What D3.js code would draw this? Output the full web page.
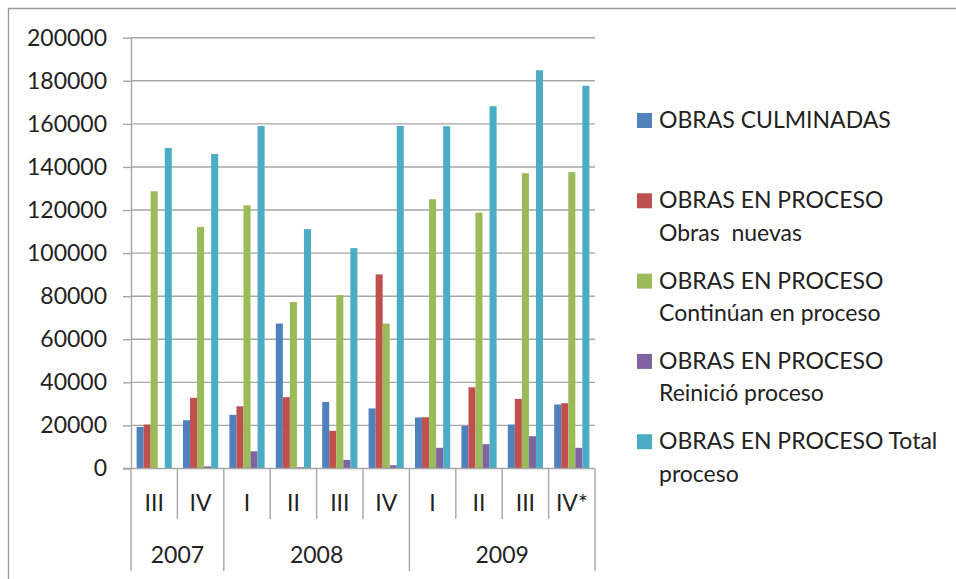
<!DOCTYPE html>
<html>
<head>
<meta charset="utf-8">
<script src="https://cdn.jsdelivr.net/npm/d3@7"></script>
<style>
  body { margin: 0; background: #fff; }
  text { font-family: Lato, 'Open Sans', sans-serif; fill: #222; }
</style>
</head>
<body>
<div class="chart"></div>
<script>
// DATA ------------------------------------
const quarters = ['III', 'IV', 'I', 'II', 'III', 'IV', 'I', 'II', 'III', 'IV*']
const years = ['2007', '2008', '2009']
const yearSpans = [2, 4, 4]
const yTicks = [0, 20000, 40000, 60000, 80000, 100000, 120000, 140000, 160000, 180000, 200000]

const culminadas = [19300, 22400, 24900, 67300, 30900, 27900, 23700, 19800, 20400, 29700]
const nuevas = [20400, 32800, 28900, 33100, 17500, 90100, 23800, 37700, 32300, 30300]
const continuan = [128700, 112200, 122200, 77300, 80500, 67300, 125000, 118800, 137100, 137600]
const reinicio = [0, 1000, 8000, 600, 4000, 1500, 9600, 11300, 15000, 9600]
const totalProceso = [148800, 146000, 159000, 111100, 102300, 159000, 158900, 168200, 184900, 177700]

const seriesNames = [
    ['OBRAS CULMINADAS'],
    ['OBRAS EN PROCESO', 'Obras  nuevas'],
    ['OBRAS EN PROCESO', 'Continúan en proceso'],
    ['OBRAS EN PROCESO', 'Reinició proceso'],
    ['OBRAS EN PROCESO Total', 'proceso']
]
const colors = ['#4f81bd', '#c0504d', '#9bbb59', '#8064a2', '#4bacc6']
const seriesValues = [culminadas, nuevas, continuan, reinicio, totalProceso]

// CHART INIT ------------------------------
const W = 956, H = 579
const plot = { left: 131, right: 595, top: 37.7, bottom: 468.5 }
const gridColor = '#a6a6a6'

const svg = d3.select('.chart')
    .append('svg')
    .attr('width', W)
    .attr('height', H)

// outer frame (top + left edges visible)
svg.append('path')
    .attr('d', `M8.5,${H} V8.5 H${W}`)
    .attr('fill', 'none')
    .attr('stroke', '#9a9a9a')
    .attr('stroke-width', 1.3)

const xScale = d3.scaleBand()
    .domain(d3.range(quarters.length))
    .range([plot.left, plot.right])

const xInner = d3.scaleBand()
    .domain(d3.range(seriesValues.length))
    .range([5.6, xScale.bandwidth() - 5.6])

const yScale = d3.scaleLinear()
    .domain([0, 200000])
    .range([plot.bottom, plot.top])

// gridlines + y axis
const yAxis = d3.axisLeft(yScale)
    .tickValues(yTicks)
    .tickSize(8)
    .tickPadding(16)
    .tickFormat(d3.format('d'))

const yg = svg.append('g')
    .attr('class', 'axis y-axis')
    .attr('transform', `translate(${plot.left},0)`)
    .call(yAxis)

yg.select('.domain').attr('stroke', gridColor).attr('stroke-width', 1.4)
    .attr('d', `M0.5,${plot.top}V${plot.bottom}`)
yg.selectAll('.tick line').attr('stroke', gridColor).attr('stroke-width', 1.4)
yg.selectAll('.tick text')
    .attr('font-size', 23)
    .attr('fill', '#222')

svg.append('g')
    .selectAll('line')
    .data(yTicks.filter(d => d > 0))
    .join('line')
    .attr('x1', plot.left)
    .attr('x2', plot.right)
    .attr('y1', d => yScale(d))
    .attr('y2', d => yScale(d))
    .attr('stroke', gridColor)
    .attr('stroke-width', 1.4)

// bars
const groups = svg.append('g')
    .selectAll('g')
    .data(quarters.map((q, i) => i))
    .join('g')
    .attr('transform', i => `translate(${xScale(i)},0)`)

groups.selectAll('rect')
    .data(i => seriesValues.map((s, k) => ({ k: k, v: s[i] })))
    .join('rect')
    .attr('x', d => xInner(d.k))
    .attr('width', xInner.bandwidth())
    .attr('y', d => yScale(d.v))
    .attr('height', d => yScale(0) - yScale(d.v))
    .attr('fill', d => colors[d.k])

// x axis baseline
svg.append('line')
    .attr('x1', plot.left - 8)
    .attr('x2', plot.right)
    .attr('y1', yScale(0))
    .attr('y2', yScale(0))
    .attr('stroke', gridColor)
    .attr('stroke-width', 1.4)

// category separators
const boundaries = d3.range(quarters.length + 1)
const yearStarts = d3.cumsum([0].concat(yearSpans))
svg.append('g')
    .selectAll('line')
    .data(boundaries)
    .join('line')
    .attr('x1', i => i < quarters.length ? xScale(i) : plot.right)
    .attr('x2', i => i < quarters.length ? xScale(i) : plot.right)
    .attr('y1', yScale(0))
    .attr('y2', i => yearStarts.includes(i) ? 571 : 519)
    .attr('stroke', gridColor)
    .attr('stroke-width', 1.4)

svg.append('g')
    .selectAll('text')
    .data(quarters)
    .join('text')
    .attr('x', (d, i) => xScale(i) + xScale.bandwidth() / 2)
    .attr('y', 503)
    .attr('dy', '0.35em')
    .attr('text-anchor', 'middle')
    .attr('font-size', 23)
    .text(d => d)

svg.append('g')
    .selectAll('text')
    .data(years)
    .join('text')
    .attr('x', (d, i) => {
        const a = xScale(yearStarts[i])
        const b = yearStarts[i + 1] < quarters.length ? xScale(yearStarts[i + 1]) : plot.right
        return (a + b) / 2
    })
    .attr('y', 555)
    .attr('dy', '0.35em')
    .attr('text-anchor', 'middle')
    .attr('font-size', 23)
    .text(d => d)

// LEGEND ----------------------------------
const legend = svg.append('g')
    .selectAll('g')
    .data(seriesNames)
    .join('g')
    .attr('transform', (d, i) => `translate(637,${113 + i * 80.3})`)

legend.append('rect')
    .attr('width', 15)
    .attr('height', 15)
    .attr('fill', (d, i) => colors[i])

legend.append('text')
    .attr('x', 22)
    .attr('y', 15)
    .attr('font-size', 23)
    .style('white-space', 'pre')
    .selectAll('tspan')
    .data(d => d)
    .join('tspan')
    .attr('x', 22)
    .attr('dy', (d, j) => j === 0 ? 0 : 32.5)
    .text(d => d)
</script>
</body>
</html>
